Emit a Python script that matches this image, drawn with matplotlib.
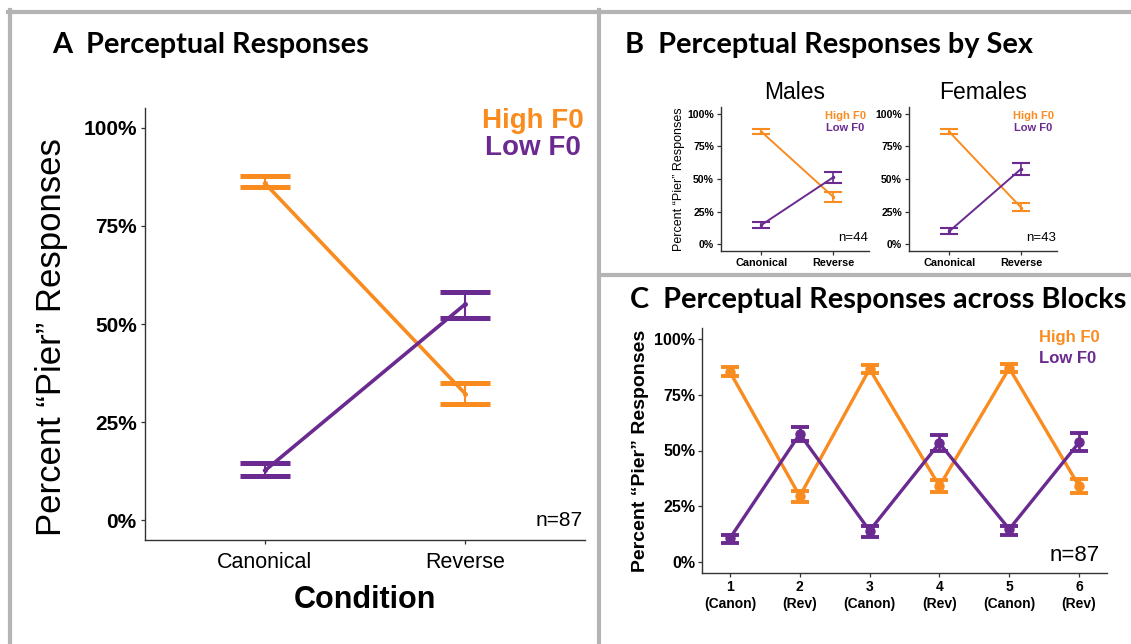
import matplotlib
matplotlib.use("Agg")
import matplotlib.pyplot as plt
from matplotlib.lines import Line2D

plt.rcParams["font.family"] = ["Liberation Sans", "DejaVu Sans"]

ORANGE = "#F98B1F"
PURPLE = "#6A2A8F"
GRID = "#333333"

# ---- panel A: overall responses ----
conditions = ["Canonical", "Reverse"]
a_high = [85.8, 32.3]
a_high_lo = [84.8, 29.7]
a_high_hi = [87.8, 34.9]
a_low = [12.7, 55.0]
a_low_lo = [11.2, 51.5]
a_low_hi = [14.5, 58.2]

# ---- panel B: by sex ----
m_high = [86.2, 36.5]
m_high_lo = [84.2, 32.8]
m_high_hi = [88.3, 40.2]
m_low = [14.8, 51.2]
m_low_lo = [12.2, 46.8]
m_low_hi = [17.3, 55.7]
f_high = [86.1, 28.2]
f_high_lo = [84.2, 25.2]
f_high_hi = [88.0, 31.3]
f_low = [10.0, 57.7]
f_low_lo = [7.9, 52.9]
f_low_hi = [12.2, 62.6]

# ---- panel C: across blocks ----
blocks = [1, 2, 3, 4, 5, 6]
block_labels = ["1\n(Canon)", "2\n(Rev)", "3\n(Canon)", "4\n(Rev)", "5\n(Canon)", "6\n(Rev)"]
c_high = [85.3, 29.5, 86.6, 34.0, 87.0, 34.0]
c_high_lo = [83.5, 26.7, 84.7, 31.3, 85.3, 31.0]
c_high_hi = [87.5, 32.0, 88.4, 36.6, 88.7, 37.0]
c_low = [10.6, 57.4, 14.0, 53.3, 14.7, 53.6]
c_low_lo = [8.3, 54.4, 11.3, 49.8, 12.1, 49.8]
c_low_hi = [12.1, 60.7, 15.9, 57.1, 16.2, 57.7]

yticks = [0, 25, 50, 75, 100]
ytick_labels = ["0%", "25%", "50%", "75%", "100%"]


def err(mean, lo, hi):
    return [[m - l for m, l in zip(mean, lo)], [h - m for m, h in zip(mean, hi)]]


def style_axes(ax, tick_size, pad):
    for side in ("top", "right"):
        ax.spines[side].set_visible(False)
    for side in ("left", "bottom"):
        ax.spines[side].set_color(GRID)
        ax.spines[side].set_linewidth(1.0)
    ax.tick_params(colors=GRID, length=3, width=0.9, labelcolor="black",
                   labelsize=tick_size, pad=pad)
    ax.set_ylim(-5, 105)
    ax.set_yticks(yticks)
    ax.set_yticklabels(ytick_labels, fontweight="bold")


def draw_series(ax, x, mean, lo, hi, color, lw, capsize, capthick, elw, ms):
    ax.errorbar(x, mean, yerr=err(mean, lo, hi), color=color, lw=lw,
                capsize=capsize, capthick=capthick, elinewidth=elw,
                marker="o", ms=ms, zorder=3)


fig = plt.figure(figsize=(11.31, 6.44), dpi=100)
W, H = 1131, 644


def box(l, t, r, b):
    return [l / W, 1 - b / H, (r - l) / W, (b - t) / H]


# panel frames
frame = dict(color="#b4b4b4", lw=3.0, transform=fig.transFigure)
fig.add_artist(Line2D([8 / W, 1], [1 - 11.5 / H] * 2, **frame))
fig.add_artist(Line2D([10 / W] * 2, [0, 1 - 10 / H], **frame))
fig.add_artist(Line2D([599 / W] * 2, [0, 1 - 10 / H], **frame))
fig.add_artist(Line2D([599 / W, 1], [1 - 274.5 / H] * 2, **frame))

title_font = dict(family=["Lato", "DejaVu Sans"], fontweight="bold", fontsize=20.8)
fig.text(52 / W, 1 - 53 / H, "A  Perceptual Responses", va="baseline", **title_font)
fig.text(625 / W, 1 - 53 / H, "B  Perceptual Responses by Sex", va="baseline", **title_font)
fig.text(630 / W, 1 - 308 / H, "C  Perceptual Responses across Blocks", va="baseline", **title_font)

# ---- A ----
ax = fig.add_axes(box(145, 108, 585, 540))
x = range(len(conditions))
draw_series(ax, x, a_high, a_high_lo, a_high_hi, ORANGE, 2.6, 18, 3.6, 1.5, 2.5)
draw_series(ax, x, a_low, a_low_lo, a_low_hi, PURPLE, 2.6, 18, 3.6, 1.5, 2.5)
style_axes(ax, 15, 3)
ax.set_xlim(-0.6, 1.6)
ax.set_xticks(list(x))
ax.set_xticklabels(conditions, fontsize=15.5)
ax.tick_params(axis="x", pad=6)
ax.set_xlabel("Condition", fontsize=22, fontweight="bold", labelpad=8)
ax.set_ylabel("Percent \u201cPier\u201d Responses", fontsize=25)
ax.yaxis.set_label_coords(-0.174, 0.469)
ax.text(1.34, 101.8, "High F0", color=ORANGE, fontsize=20, fontweight="bold",
        ha="center", va="center")
ax.text(1.34, 94.7, "Low F0", color=PURPLE, fontsize=20, fontweight="bold",
        ha="center", va="center")
ax.text(1.59, 0, "n=87", fontsize=15, ha="right", va="center")

# ---- B ----
for left, title, hi, hlo, hhi, lo, llo, lhi, n in [
    (721, "Males", m_high, m_high_lo, m_high_hi, m_low, m_low_lo, m_low_hi, "n=44"),
    (909, "Females", f_high, f_high_lo, f_high_hi, f_low, f_low_lo, f_low_hi, "n=43"),
]:
    ax = fig.add_axes(box(left, 107, left + 148, 251))
    draw_series(ax, x, hi, hlo, hhi, ORANGE, 1.4, 6.5, 1.5, 1.2, 1.5)
    draw_series(ax, x, lo, llo, lhi, PURPLE, 1.4, 6.5, 1.5, 1.2, 1.5)
    style_axes(ax, 7.6, 2)
    ax.set_xlim(-0.56, 1.5)
    ax.set_xticks(list(x))
    ax.set_xticklabels(conditions, fontsize=7.8, fontweight="bold")
    ax.set_title(title, fontsize=16.5, pad=6)
    ax.text(1.17, 98, "High F0", color=ORANGE, fontsize=8, fontweight="bold",
            ha="center", va="center")
    ax.text(1.17, 88.8, "Low F0", color=PURPLE, fontsize=8, fontweight="bold",
            ha="center", va="center")
    ax.text(1.49, 4.8, n, fontsize=9.5, ha="right", va="center")
    if title == "Males":
        ax.set_ylabel("Percent \u201cPier\u201d Responses", fontsize=9, labelpad=2)

# ---- C ----
ax = fig.add_axes(box(702, 328, 1107, 573))
draw_series(ax, blocks, c_high, c_high_lo, c_high_hi, ORANGE, 2.4, 6.8, 2.8, 2.0, 6.5)
draw_series(ax, blocks, c_low, c_low_lo, c_low_hi, PURPLE, 2.4, 6.8, 2.8, 2.0, 6.5)
style_axes(ax, 11.5, 2)
ax.set_xlim(0.6, 6.4)
ax.set_xticks(blocks)
ax.set_xticklabels(block_labels, fontsize=10, fontweight="bold", linespacing=1.25)
ax.set_ylabel("Percent \u201cPier\u201d Responses", fontsize=14, fontweight="bold", labelpad=4)
ax.text(5.43, 100.9, "High F0", color=ORANGE, fontsize=12, fontweight="bold",
        ha="left", va="center")
ax.text(5.43, 91.4, "Low F0", color=PURPLE, fontsize=12, fontweight="bold",
        ha="left", va="center")
ax.text(6.29, 2.7, "n=87", fontsize=16, ha="right", va="center")

fig.savefig("out.png", dpi=100)
